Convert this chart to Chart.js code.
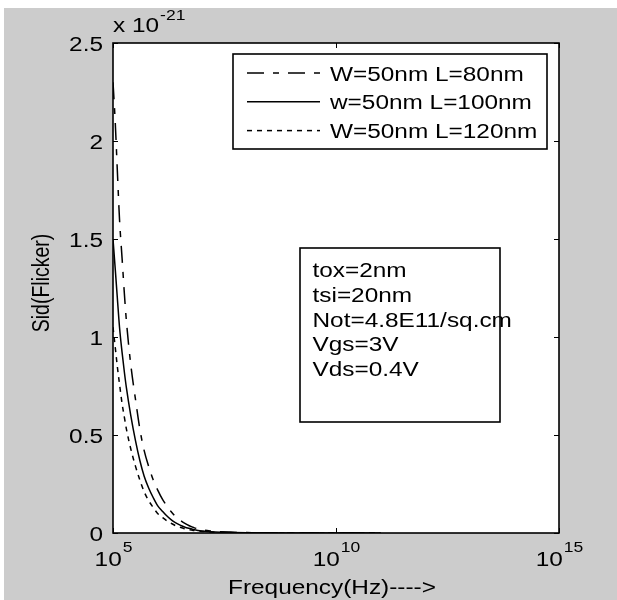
<!DOCTYPE html>
<html><head><meta charset="utf-8">
<script src="https://cdn.jsdelivr.net/npm/chart.js@4.4.0/dist/chart.umd.min.js"></script>
<style>
html,body{margin:0;padding:0;background:#fff;}
canvas{display:block;}
</style></head><body>
<canvas id="c" width="617" height="600"></canvas>
<script>
// ---- data (Sid in units of 1e-21) ----
const frequencies = [1e5, 1.12e5, 1.25e5, 1.4e5, 1.6e5, 1.8e5, 2e5, 2.5e5, 3.2e5, 4e5, 5e5, 6.3e5, 8e5, 1e6, 1.3e6, 1.6e6, 2e6, 2.5e6, 3.2e6, 4e6, 5e6, 6.3e6, 8e6, 1e7, 1.6e7, 2.5e7, 1e8, 1e9, 1e10, 1e11];
const sidL80  = [2.3, 2.1, 1.85, 1.6, 1.4, 1.22, 1.08, 0.86, 0.68, 0.53, 0.42, 0.34, 0.27, 0.22, 0.17, 0.14, 0.11, 0.085, 0.065, 0.05, 0.038, 0.029, 0.021, 0.016, 0.01, 0.006, 0.002, 0.0002, 0, 0];
const sidL100 = [1.5, 1.35, 1.2, 1.05, 0.92, 0.82, 0.74, 0.6, 0.47, 0.37, 0.29, 0.23, 0.18, 0.14, 0.11, 0.088, 0.068, 0.053, 0.04, 0.031, 0.024, 0.018, 0.013, 0.01, 0.006, 0.004, 0.001, 0.0001, 0, 0];
const sidL120 = [1.05, 0.95, 0.85, 0.76, 0.66, 0.59, 0.53, 0.43, 0.34, 0.27, 0.21, 0.165, 0.13, 0.1, 0.078, 0.063, 0.05, 0.038, 0.029, 0.022, 0.017, 0.013, 0.01, 0.008, 0.005, 0.003, 0.001, 0.0001, 0, 0];
const seriesLabels = ['W=50nm L=80nm', 'w=50nm L=100nm', 'W=50nm L=120nm'];
const xTickValues = [1e5, 1e10, 1e15];
const xTickBase = '10';
const xTickExponents = ['5', '10', '15'];
const yTickValues = [0, 0.5, 1, 1.5, 2, 2.5];
const yTickLabels = ['0', '0.5', '1', '1.5', '2', '2.5'];
const yMultiplierBase = 'x 10';
const yMultiplierExp = '-21';
const xAxisTitle = 'Frequency(Hz)---->';
const yAxisTitle = 'Sid(Flicker)';
const noteLines = ['tox=2nm', 'tsi=20nm', 'Not=4.8E11/sq.cm', 'Vgs=3V', 'Vds=0.4V'];

// ---- styles ----
const FONT = '"Liberation Sans", Arial, sans-serif';
const SX = 1.25;           // horizontal stretch of the reference's text
const BIG = 19.5, SMALL = 14;
const dashes = [[17, 9, 6, 9], [], [5, 5]];

function tw(ctx, s, size) { ctx.font = size + 'px ' + FONT; return ctx.measureText(s).width * SX; }
function txt(ctx, s, x, y, size, align) {
  ctx.save();
  ctx.font = size + 'px ' + FONT;
  ctx.fillStyle = '#000';
  ctx.textBaseline = 'alphabetic';
  ctx.textAlign = align || 'left';
  ctx.translate(x, y);
  ctx.scale(SX, 1);
  ctx.fillText(s, 0, 0);
  ctx.restore();
}

const bgPlugin = {
  id: 'bg',
  beforeDraw(chart) {
    const ctx = chart.ctx, a = chart.chartArea;
    ctx.save();
    ctx.fillStyle = '#ffffff';
    ctx.fillRect(0, 0, chart.width, chart.height);
    ctx.fillStyle = '#cccccc';
    ctx.fillRect(4, 8, chart.width - 4, chart.height - 8);
    ctx.fillStyle = '#ffffff';
    ctx.fillRect(a.left, a.top, a.right - a.left, a.bottom - a.top);
    ctx.restore();
  }
};

const framePlugin = {
  id: 'frame',
  afterDraw(chart) {
    const ctx = chart.ctx, a = chart.chartArea;
    const xs = chart.scales.x, ys = chart.scales.y;
    ctx.save();
    ctx.strokeStyle = '#000';
    ctx.lineWidth = 1.6;
    ctx.setLineDash([]);
    ctx.strokeRect(a.left, a.top, a.right - a.left, a.bottom - a.top);
    // inward ticks
    const TL = 5;
    ctx.lineWidth = 1;
    ctx.beginPath();
    xTickValues.forEach(v => {
      const x = Math.round(xs.getPixelForValue(v)) + 0.5;
      ctx.moveTo(x, a.bottom); ctx.lineTo(x, a.bottom - TL);
      ctx.moveTo(x, a.top); ctx.lineTo(x, a.top + TL);
    });
    yTickValues.forEach(v => {
      const y = Math.round(ys.getPixelForValue(v)) + 0.5;
      ctx.moveTo(a.left, y); ctx.lineTo(a.left + TL, y);
      ctx.moveTo(a.right, y); ctx.lineTo(a.right - TL, y);
    });
    ctx.stroke();
    // y tick labels
    yTickValues.forEach((v, i) => {
      const y = ys.getPixelForValue(v);
      txt(ctx, yTickLabels[i], a.left - 10, y + 7.5, BIG, 'right');
    });
    // x tick labels with superscripts
    xTickValues.forEach((v, i) => {
      const x = xs.getPixelForValue(v);
      const wb = tw(ctx, xTickBase, BIG), we = tw(ctx, xTickExponents[i], SMALL);
      const left = x - (wb + we) / 2;
      txt(ctx, xTickBase, left, a.bottom + 33, BIG, 'left');
      txt(ctx, xTickExponents[i], left + wb + 1, a.bottom + 19, SMALL, 'left');
    });
    // multiplier
    const wm = tw(ctx, yMultiplierBase, BIG);
    txt(ctx, yMultiplierBase, a.left, a.top - 11, BIG, 'left');
    txt(ctx, yMultiplierExp, a.left + wm + 1, a.top - 23, SMALL, 'left');
    // axis titles
    txt(ctx, xAxisTitle, (a.left + a.right) / 2 - 4, 594, BIG, 'center');
    ctx.save();
    ctx.translate(49, (a.top + a.bottom) / 2 - 5);
    ctx.rotate(-Math.PI / 2);
    ctx.font = BIG + 'px ' + FONT;
    ctx.fillStyle = '#000';
    ctx.textAlign = 'center';
    ctx.textBaseline = 'alphabetic';
    ctx.scale(1, SX);
    ctx.fillText(yAxisTitle, 0, 0);
    ctx.restore();

    // legend box
    const lx = 233, ly = 54, lw = 314, lh = 95;
    ctx.fillStyle = '#fff';
    ctx.fillRect(lx, ly, lw, lh);
    ctx.lineWidth = 1.6;
    ctx.strokeRect(lx, ly, lw, lh);
    chart.data.datasets.forEach((ds, i) => {
      const yy = 73 + i * 28.8;
      ctx.save();
      ctx.lineWidth = ds.borderWidth;
      ctx.setLineDash(ds.borderDash || []);
      ctx.beginPath();
      ctx.moveTo(247, yy); ctx.lineTo(320, yy);
      ctx.stroke();
      ctx.restore();
      txt(ctx, ds.label, 330, yy + 7.5, BIG, 'left');
    });

    // note box
    ctx.setLineDash([]);
    ctx.lineWidth = 1.6;
    ctx.fillStyle = '#fff';
    ctx.fillRect(300, 248, 200, 174);
    ctx.strokeRect(300, 248, 200, 174);
    noteLines.forEach((s, i) => txt(ctx, s, 312.5, 277 + i * 24.75, BIG, 'left'));
    ctx.restore();
  }
};

const mk = (arr) => frequencies.map((f, i) => ({ x: f, y: arr[i] }));
new Chart(document.getElementById('c'), {
  type: 'line',
  data: {
    datasets: [
      { label: seriesLabels[0], data: mk(sidL80), borderColor: '#000', borderWidth: 1.5, borderDash: dashes[0], pointRadius: 0, fill: false, cubicInterpolationMode: 'monotone' },
      { label: seriesLabels[1], data: mk(sidL100), borderColor: '#000', borderWidth: 1.5, borderDash: dashes[1], pointRadius: 0, fill: false, cubicInterpolationMode: 'monotone' },
      { label: seriesLabels[2], data: mk(sidL120), borderColor: '#000', borderWidth: 1.5, borderDash: dashes[2], pointRadius: 0, fill: false, cubicInterpolationMode: 'monotone' }
    ]
  },
  options: {
    responsive: false,
    animation: false,
    devicePixelRatio: 1,
    layout: { padding: { left: 113, top: 43, right: 58, bottom: 67 } },
    plugins: { legend: { display: false }, tooltip: { enabled: false } },
    scales: {
      x: { type: 'logarithmic', min: 1e5, max: 1e15, display: false },
      y: { type: 'linear', min: 0, max: 2.5, display: false }
    }
  },
  plugins: [bgPlugin, framePlugin]
});
</script>
</body></html>
